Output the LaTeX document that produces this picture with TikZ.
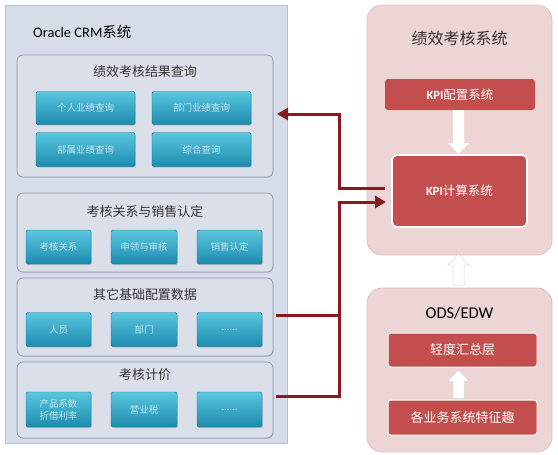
\documentclass[tikz,border=0pt]{standalone}
\usepackage{fontspec}
\setmainfont{Noto Sans CJK SC}
\newfontfamily\lat{Carlito}
\usetikzlibrary{arrows.meta,calc,shadows}
\definecolor{panelblue}{HTML}{D6DDE9}
\definecolor{panelblueedge}{HTML}{B3C0D4}
\definecolor{groupfill}{HTML}{DADFEA}
\definecolor{groupedge}{HTML}{8F98A8}
\definecolor{btntop}{HTML}{5AC6DE}
\definecolor{btnbot}{HTML}{1C8CAE}
\definecolor{btntext}{HTML}{C4E4EE}
\definecolor{pinkfill}{HTML}{EDD4D5}
\definecolor{pinkedge}{HTML}{E2C3C5}
\definecolor{kpired}{HTML}{C24F4D}
\definecolor{linkred}{HTML}{8A1A1F}
\definecolor{titlegrey}{HTML}{333333}
\newcommand\blkarrow[3]{%
  \path[#3] let \p1=(#1), \p2=(#2), \p3=($(#2)!11pt!(#1)$) in
    (\x2-5.5pt,\y1) -- (\x2+5.5pt,\y1) -- (\x2+5.5pt,\y3) -- (\x2+10.5pt,\y3)
    -- (\x2,\y2) -- (\x2-10.5pt,\y3) -- (\x2-5.5pt,\y3) -- cycle;}
\begin{document}
\begin{tikzpicture}[x=1pt,y=-1pt,
  dims/.style 2 args={minimum width=#1pt, minimum height=#2pt, inner sep=0pt, outer sep=0pt},
  crmpanel/.style={rectangle, fill=panelblue, draw=panelblueedge, line width=0.8pt},
  groupbox/.style={rectangle, rounded corners=6pt, fill=groupfill, draw=groupedge, line width=0.7pt,
    drop shadow={shadow xshift=0.6pt, shadow yshift=-0.8pt, opacity=0.25}},
  grouptitle/.style={font=\fontsize{13}{15}\selectfont, text=titlegrey, inner sep=0pt},
  btn/.style={rectangle, rounded corners=1.5pt, top color=btntop, bottom color=btnbot,
    draw=btnbot!80!black, line width=0.4pt, text=btntext,
    font=\fontsize{9.5}{12}\selectfont, align=center,
    drop shadow={shadow xshift=0.8pt, shadow yshift=-1.2pt, opacity=0.35}},
  pinkpanel/.style={rectangle, rounded corners=15pt, fill=pinkfill, draw=pinkedge, line width=0.8pt},
  redbox/.style={rectangle, rounded corners=3pt, fill=kpired, text=white,
    font=\fontsize{12.5}{15}\selectfont},
  redline/.style={draw=linkred, line width=3pt},
  redtip/.style={-{Triangle[length=11pt,width=12pt]}},
  whitearrow/.style={fill=white, draw=white!85!black, line width=0.5pt}
]
\useasboundingbox (0,0) rectangle (558,455);
\fill[white] (0,0) rectangle (558,455);

% ---------- Oracle CRM panel ----------
\node[crmpanel, dims={282}{438}] (crm) at (146,224) {};
\node[anchor=west, inner sep=0pt, text=black, font=\fontsize{14.5}{17}\selectfont] (crmt) at (33,32) {{\lat Oracle CRM}系统};

% group 1
\node[groupbox, dims={256}{122}] (g1) at (145,116) {};
\node[grouptitle] (g1t) at (145,72) {绩效考核结果查询};
\node[btn, dims={99}{33}] (b11) at (85.5,108) {个人业绩查询};
\node[btn, dims={99}{33}] (b12) at (201.5,108) {部门业绩查询};
\node[btn, dims={99}{34}] (b21) at (85.5,149.5) {部属业绩查询};
\node[btn, dims={99}{34}] (b22) at (201.5,149.5) {综合查询};

% group 2
\node[groupbox, dims={256}{79}] (g2) at (145,232.5) {};
\node[grouptitle] (g2t) at (145,212) {考核关系与销售认定};
\node[btn, dims={65}{34}] (c1) at (58.5,247) {考核关系};
\node[btn, dims={66}{34}] (c2) at (144,247) {申领与审核};
\node[btn, dims={65}{34}] (c3) at (229.5,247) {销售认定};

% group 3
\node[groupbox, dims={256}{78}] (g3) at (145,317) {};
\node[grouptitle] (g3t) at (145,295) {其它基础配置数据};
\node[btn, dims={65}{34}] (d1) at (58.5,329.5) {人员};
\node[btn, dims={66}{34}] (d2) at (144,329.5) {部门};
\node[btn, dims={65}{34}] (d3) at (229.5,329.5) {......};

% group 4
\node[groupbox, dims={256}{76}] (g4) at (145,400) {};
\node[grouptitle] (g4t) at (145,375) {考核计价};
\node[btn, dims={65}{35}] (e1) at (58.5,409.5) {产品系数\\折借利率};
\node[btn, dims={66}{35}] (e2) at (144,409.5) {营业税};
\node[btn, dims={65}{35}] (e3) at (229.5,409.5) {......};

% ---------- 绩效考核系统 ----------
\node[pinkpanel, dims={185}{250}] (kpisys) at (459.5,130) {};
\node[inner sep=0pt, text=titlegrey, font=\fontsize{16}{19}\selectfont] (kpisyst) at (459.5,38) {绩效考核系统};
\node[redbox, dims={150}{31}] (kpicfg) at (460,94.5) {{\lat\bfseries KPI}配置系统};
\node[redbox, dims={135}{72}, rounded corners=5pt, draw=white, line width=1.6pt] (kpicalc) at (459.5,191) {{\lat\bfseries KPI}计算系统};

% ---------- ODS/EDW ----------
\node[pinkpanel, dims={185}{164}] (ods) at (459.5,370) {};
\node[inner sep=0pt, text=black, font=\lat\fontsize{16.5}{19}\selectfont] (odst) at (459.5,313) {ODS/EDW};
\node[redbox, dims={149}{34}, draw=white, line width=1pt, font=\fontsize{13}{15}\selectfont] (light) at (462.5,350) {轻度汇总层};
\node[redbox, dims={149}{35}, draw=white, line width=1pt, font=\fontsize{13}{15}\selectfont] (src) at (462.5,417.5) {各业务系统特征趣};

% ---------- block arrows ----------
\coordinate (a1s) at ($(kpicfg.south -| kpisys.south)+(-1,0)$);
\coordinate (a1e) at ($(kpicalc.north -| kpisys.south)+(-1,-1)$);
\blkarrow{a1s}{a1e}{fill=white}
\coordinate (a2s) at ($(ods.north)+(-1,-3)$);
\coordinate (a2e) at ($(kpisys.south)+(-1,-1)$);
\blkarrow{a2s}{a2e}{whitearrow}
\coordinate (a3s) at ($(src.north -| ods.north)+(-1,-2)$);
\coordinate (a3e) at ($(light.south -| ods.north)+(-1,3)$);
\blkarrow{a3s}{a3e}{whitearrow}

% ---------- red connectors ----------
\coordinate (j1) at (339,114);
\coordinate (j2) at (339,202);
\draw[redline, redtip, shorten >=4pt] ($(kpicalc.west)+(-7,-3)$) -| (j1) -- (j1 -| g1.east);
\coordinate (s3) at ($(g3.east)+(3,-2)$);
\draw[redline] (s3) -- (s3 -| j2);
\draw[redline, redtip, shorten >=6pt] ($(g4.east)+(3,-4)$) -| (j2) -- (j2 -| kpicalc.west);
\end{tikzpicture}
\end{document}
